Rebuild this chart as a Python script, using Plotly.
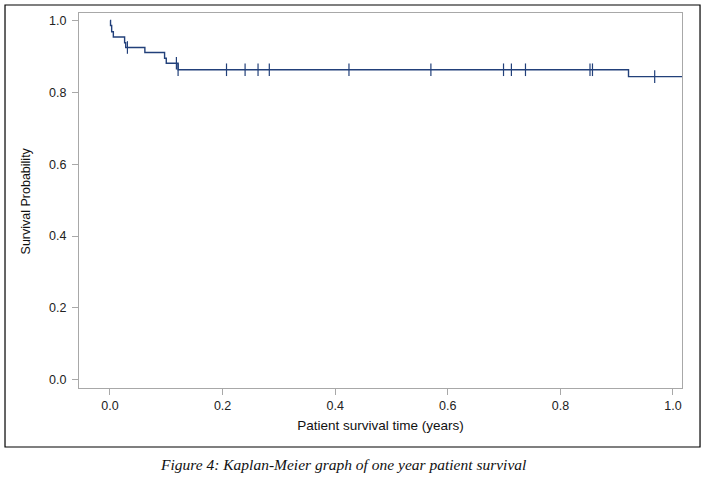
import plotly.graph_objects as go
import numpy as np

# Kaplan-Meier step function (time in years, survival probability)
event_times = [0.0, 0.001, 0.003, 0.006, 0.026, 0.028, 0.062, 0.097, 0.100, 0.121, 0.921, 1.016]
survival = [1.0, 0.986, 0.969, 0.954, 0.938, 0.925, 0.911, 0.895, 0.881, 0.863, 0.844, 0.844]

# Censored observations
censor_times = [0.031, 0.118, 0.121, 0.207, 0.240, 0.263, 0.283, 0.4245, 0.570,
                0.699, 0.713, 0.738, 0.8526, 0.857, 0.9675]

x_ticks = [0.0, 0.2, 0.4, 0.6, 0.8, 1.0]
y_ticks = [0.0, 0.2, 0.4, 0.6, 0.8, 1.0]

def surv_at(t):
    idx = np.searchsorted(event_times, t, side="right") - 1
    return survival[max(idx, 0)]

censor_surv = [surv_at(t) for t in censor_times]

line_color = "#22407A"

fig = go.Figure()
fig.add_trace(go.Scatter(x=event_times, y=survival, mode="lines", line_shape="hv",
                         line=dict(color=line_color, width=1.4), showlegend=False,
                         hoverinfo="skip"))
fig.add_trace(go.Scatter(x=censor_times, y=censor_surv, mode="markers",
                         marker=dict(symbol="line-ns", size=9,
                                     line=dict(color=line_color, width=1.2)),
                         showlegend=False))

axis_common = dict(showgrid=False, zeroline=False, showline=True, mirror=True,
                   linecolor="#A8A8A8", linewidth=1, ticks="outside", ticklen=6,
                   tickcolor="#A8A8A8",
                   tickfont=dict(family="Liberation Sans, Arial", size=12.5, color="#222"))

fig.update_xaxes(range=[-0.055, 1.016], tickvals=x_ticks,
                 ticktext=[f"{v:.1f}" for v in x_ticks],
                 title=dict(text="Patient survival time (years)",
                            font=dict(family="Liberation Sans, Arial", size=13.5, color="#111"),
                            standoff=8),
                 **axis_common)
fig.update_yaxes(range=[-0.023, 1.021], tickvals=y_ticks, ticklabelstandoff=3,
                 ticktext=[f"{v:.1f}" for v in y_ticks], **axis_common)

fig.update_layout(
    width=706, height=482,
    margin=dict(l=79, r=24, t=13, b=94),
    paper_bgcolor="white", plot_bgcolor="white",
    shapes=[dict(type="rect", xref="paper", yref="paper",
                 x0=-0.1227, x1=1.0299, y0=-0.1573, y1=1.0213,
                 line=dict(color="black", width=1.2), fillcolor="rgba(0,0,0,0)")],
    annotations=[
        dict(text="Survival Probability", xref="paper", yref="paper",
             x=-0.088, y=0.5, xanchor="center", yanchor="middle",
             textangle=-90, showarrow=False,
             font=dict(family="Liberation Sans, Arial", size=12.5, color="#111")),
        dict(text="<i>Figure 4: Kaplan-Meier graph of one year patient survival</i>",
             xref="paper", yref="paper", x=0.438, y=-0.205,
             xanchor="center", yanchor="middle", showarrow=False,
             font=dict(family="Liberation Serif, Times New Roman", size=15.5, color="#111")),
    ],
)

fig.write_html("out.html", config={"displayModeBar": False},
               post_script="document.body.style.margin='0';")
